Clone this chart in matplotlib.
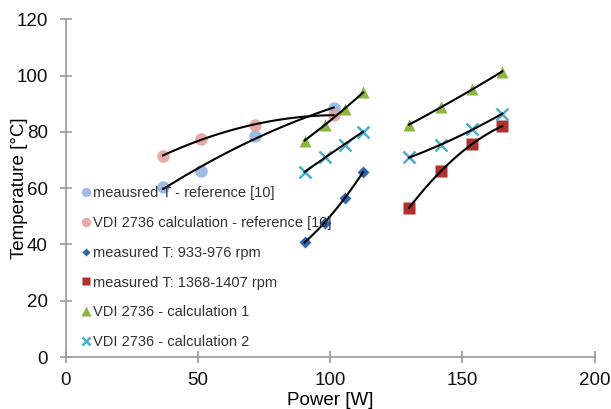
import matplotlib
matplotlib.use("Agg")
import matplotlib.pyplot as plt
import numpy as np

plt.rcParams['font.family'] = ['Liberation Sans', 'DejaVu Sans']

# data
ref_power = [36.7, 51.1, 71.7, 101.3]
ref_measured = [60.3, 66.2, 78.6, 88.4]
ref_vdi = [71.4, 77.6, 82.4, 86.0]

power_low = [90.3, 98.0, 105.4, 112.4]
power_high = [129.8, 142.1, 153.7, 165.1]
meas_low = [40.8, 47.7, 56.6, 65.6]
meas_high = [53.0, 66.1, 75.8, 82.0]
calc1_low = [76.9, 82.6, 88.1, 94.0]
calc1_high = [82.6, 88.7, 95.2, 101.4]
calc2_low = [65.7, 71.0, 75.4, 80.1]
calc2_high = [70.9, 75.4, 80.9, 86.4]

labels = ["meausred T - reference [10]",
          "VDI 2736 calculation - reference [10]",
          "measured T: 933-976 rpm",
          "measured T: 1368-1407 rpm",
          "VDI 2736 - calculation 1",
          "VDI 2736 - calculation 2"]

fig = plt.figure(figsize=(6.11, 4.09), dpi=100)
ax = fig.add_axes((0.108, 0.127, 0.865, 0.826))

# markers
h1, = ax.plot(ref_power, ref_measured, 'o', color='#8FAEDC', alpha=0.85, ms=9, mec='none')
h2, = ax.plot(ref_power, ref_vdi, 'o', color='#E39A9A', alpha=0.85, ms=9, mec='none')
h3, = ax.plot(power_low, meas_low, 'D', color='#2F64AE', ms=6, mec='none')
h4, = ax.plot(power_high, meas_high, 's', color='#B0302C', ms=8, mec='none')
h5, = ax.plot(power_low, calc1_low, '^', color='#8DB53F', ms=9, mec='none')
ax.plot(power_high, calc1_high, '^', color='#8DB53F', ms=9, mec='none')
h6, = ax.plot(power_low, calc2_low, 'x', color='#4BAFCB', ms=8, mew=1.8)
ax.plot(power_high, calc2_high, 'x', color='#4BAFCB', ms=8, mew=1.8)

# trendlines (2nd order fit through each group)
groups = [(ref_power, ref_measured), (ref_power, ref_vdi),
          (power_low, meas_low), (power_high, meas_high),
          (power_low, calc1_low), (power_high, calc1_high),
          (power_low, calc2_low), (power_high, calc2_high)]
for xs, ys in groups:
    c = np.polyfit(xs, ys, 2)
    xx = np.linspace(min(xs), max(xs), 50)
    ax.plot(xx, np.polyval(c, xx), color='black', lw=1.5)

ax.set_xlim(0, 200)
ax.set_ylim(0, 120)
ax.set_xticks([0, 50, 100, 150, 200])
ax.set_yticks([0, 20, 40, 60, 80, 100, 120])
for s in ['top', 'right']:
    ax.spines[s].set_visible(False)
for s in ['left', 'bottom']:
    ax.spines[s].set_color('#999999')
    ax.spines[s].set_linewidth(1.2)
ax.tick_params(direction='inout', length=8, width=1.2, color='#999999',
               labelsize=13.5, labelcolor='#111111')
ax.tick_params(axis='x', pad=7)
ax.tick_params(axis='y', pad=9)
ax.set_xlabel("Power [W]", fontsize=13.5)
ax.set_ylabel("Temperature [°C]", fontsize=13.5)
ax.xaxis.set_label_coords(0.5, -0.102)
ax.yaxis.set_label_coords(-0.072, 0.5)

leg = ax.legend([h1, h2, h3, h4, h5, h6], labels, loc='lower left',
                bbox_to_anchor=(0.014, 0.0), frameon=False, fontsize=10.5,
                handlelength=0.6, handletextpad=0.2, labelspacing=1.08,
                borderaxespad=0.15, markerscale=0.75)
for t in leg.get_texts():
    t.set_color('#333333')

fig.savefig("out.png", dpi=100)
